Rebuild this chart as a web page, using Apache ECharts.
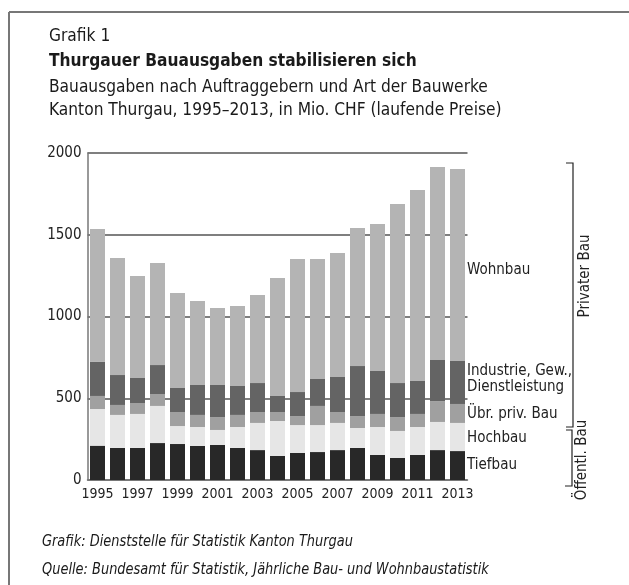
<!DOCTYPE html>
<html>
<head>
<meta charset="utf-8">
<script src="https://cdn.jsdelivr.net/npm/echarts@6/dist/echarts.min.js"></script>
<style>
  html, body { margin: 0; padding: 0; background: #fff; }
  #chart { width: 629px; height: 585px; }
</style>
</head>
<body>
<div id="chart"></div>
<script>
// Kanton Thurgau, Bauausgaben in Mio. CHF
var years = ['1995','1996','1997','1998','1999','2000','2001','2002','2003','2004',
             '2005','2006','2007','2008','2009','2010','2011','2012','2013'];
var tiefbau   = [210, 196, 196, 226, 220, 208, 214, 196, 183, 147, 165, 171, 183, 196, 153, 135, 153, 183, 177];
var hochbau   = [224, 202, 208, 227, 110, 116,  92, 128, 166, 214, 171, 165, 166, 122, 171, 165, 171, 172, 172];
var uebrPriv  = [ 80,  61,  67,  73,  86,  74,  79,  74,  67,  55,  55, 117,  67,  73,  80,  85,  80, 128, 116];
var industrie = [210, 183, 153, 177, 147, 183, 196, 177, 177,  98, 147, 165, 214, 306, 263, 208, 202, 251, 263];
var wohnbau   = [811, 716, 624, 624, 581, 514, 471, 489, 538, 721, 814, 734, 758, 844, 899,1095,1168,1180,1174];
var yTicks = [0, 500, 1000, 1500, 2000];

var FONT = "'Liberation Sans Narrow', 'DejaVu Sans Condensed', 'Roboto', sans-serif";

var chart = echarts.init(document.getElementById('chart'));

function bar(name, data, color) {
    return {
        name: name,
        type: 'bar',
        stack: 'total',
        data: data,
        barCategoryGap: '25%',
        itemStyle: { color: color },
        emphasis: { disabled: true }
    };
}

function txt(x, y, text, font, sx) {
    return { type: 'text', x: x, y: y, scaleX: sx || 1,
             style: { text: text, font: font, fill: '#1a1a1a', verticalAlign: 'middle' } };
}

// Beschriftungen rechts
var rightLabels = [
    { text: 'Wohnbau', y: 270 },
    { text: 'Industrie, Gew.,\nDienstleistung', y: 379 },
    { text: 'Übr. priv. Bau', y: 414 },
    { text: 'Hochbau', y: 438 },
    { text: 'Tiefbau', y: 465 }
];

var graphics = [
    // Rahmen oben und links
    { type: 'line', shape: { x1: 9, y1: 12, x2: 629, y2: 12 }, style: { stroke: '#777', lineWidth: 2 } },
    { type: 'line', shape: { x1: 9, y1: 12, x2: 9, y2: 585 }, style: { stroke: '#777', lineWidth: 2 } },
    txt(49, 36, 'Grafik 1', '18px ' + FONT, 0.955),
    txt(49, 61, 'Thurgauer Bauausgaben stabilisieren sich', 'bold 18px ' + FONT, 0.955),
    txt(49, 87, 'Bauausgaben nach Auftraggebern und Art der Bauwerke', '18px ' + FONT, 0.955),
    txt(49, 110, 'Kanton Thurgau, 1995–2013, in Mio. CHF (laufende Preise)', '18px ' + FONT, 0.955),
    txt(42, 542, 'Grafik: Dienststelle für Statistik Kanton Thurgau', 'italic 15px ' + FONT, 0.96),
    txt(42, 570, 'Quelle: Bundesamt für Statistik, Jährliche Bau- und Wohnbaustatistik', 'italic 15px ' + FONT, 0.96),
    // Klammer Privater Bau
    { type: 'polyline', shape: { points: [[566, 163], [573, 163], [573, 427], [566, 427]] }, style: { stroke: '#222', lineWidth: 1.2, fill: null } },
    // Klammer Öffentl. Bau
    { type: 'polyline', shape: { points: [[566, 430], [572, 430], [572, 486], [565, 486]] }, style: { stroke: '#222', lineWidth: 1.2, fill: null } },
    { type: 'text', x: 585, y: 276, rotation: Math.PI / 2, style: { text: 'Privater Bau', font: '15px ' + FONT, fill: '#222', align: 'center', verticalAlign: 'middle' } },
    { type: 'text', x: 582, y: 460, rotation: Math.PI / 2, style: { text: 'Öffentl. Bau', font: '15px ' + FONT, fill: '#222', align: 'center', verticalAlign: 'middle' } }
];
rightLabels.forEach(function (l) {
    graphics.push({ type: 'text', x: 467, y: l.y, style: { text: l.text, font: '15px ' + FONT, fill: '#222', verticalAlign: 'middle', lineHeight: 16 } });
});

chart.setOption({
    animation: false,
    grid: { left: 87.5, right: 161.5, top: 153, bottom: 105 },
    xAxis: {
        type: 'category',
        data: years,
        axisTick: { show: false },
        axisLine: { lineStyle: { color: '#777', width: 1.5 } },
        axisLabel: { interval: 1, color: '#222', fontFamily: FONT, fontSize: 14, margin: 7 }
    },
    yAxis: {
        type: 'value',
        min: yTicks[0],
        max: yTicks[yTicks.length - 1],
        interval: 500,
        axisLine: { show: true, lineStyle: { color: '#777', width: 1.5 } },
        axisTick: { show: false },
        axisLabel: { color: '#222', fontFamily: FONT, fontSize: 15, margin: 6,
                     formatter: function (v) { return String(v); } },
        splitLine: { lineStyle: { color: '#555', width: 1.5 } }
    },
    series: [
        bar('Tiefbau', tiefbau, '#282828'),
        bar('Hochbau', hochbau, '#e6e6e6'),
        bar('Übr. priv. Bau', uebrPriv, '#a0a0a0'),
        bar('Industrie, Gew., Dienstleistung', industrie, '#646464'),
        bar('Wohnbau', wohnbau, '#b4b4b4')
    ],
    graphic: graphics
});
</script>
</body>
</html>
